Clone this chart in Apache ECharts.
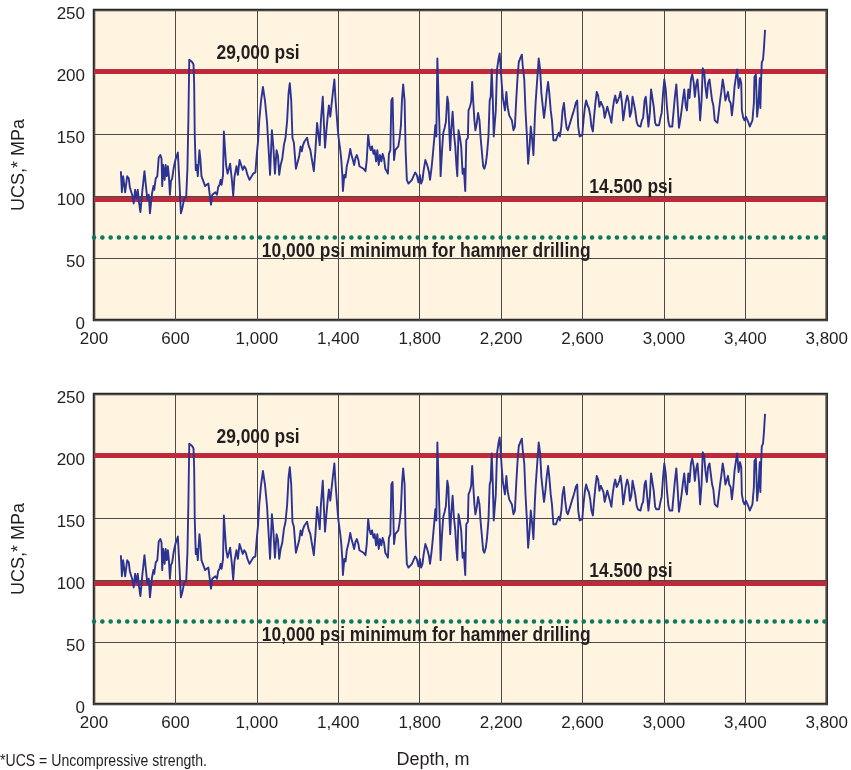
<!DOCTYPE html>
<html>
<head>
<meta charset="utf-8">
<script src="https://cdn.jsdelivr.net/npm/echarts@6/dist/echarts.min.js"></script>
<style>
html,body{margin:0;padding:0;background:#fff;}
#chart{width:851px;height:770px;}
</style>
</head>
<body>
<div id="chart"></div>
<script>
// Depth (m) along the well
const depth = [
 332,337,343,353,363,371,376,382,389,395,
 402,408,415,421,428,438,448,454,462,469,
 475,485,492,496,503,511,518,526,532,535,
 540,547,552,558,563,568,573,578,584,592,
 600,612,620,627,635,643,653,659,664,668,
 674,682,689,692,695,700,705,710,718,723,
 728,737,746,753,762,768,775,781,790,796,
 804,810,817,822,827,834,838,845,849,856,
 863,869,878,884,890,900,907,915,923,931,
 938,946,954,964,973,982,993,1000,1006,1012,
 1021,1030,1040,1050,1065,1074,1081,1089,1097,1104,
 1110,1117,1125,1133,1141,1149,1156,1162,1169,1175,
 1182,1192,1201,1208,1215,1221,1227,1234,1240,1247,
 1254,1263,1271,1280,1288,1296,1304,1309,1315,1324,
 1328,1335,1342,1348,1354,1361,1368,1374,1381,1387,
 1393,1400,1410,1415,1420,1423,1430,1436,1442,1451,
 1459,1465,1472,1478,1485,1491,1499,1504,1514,1524,
 1534,1540,1547,1553,1560,1566,1573,1579,1586,1592,
 1599,1605,1612,1618,1625,1631,1638,1644,1649,1656,
 1661,1667,1674,1680,1688,1695,1701,1708,1713,1719,
 1726,1731,1737,1745,1753,1762,1770,1778,1786,1794,
 1801,1807,1814,1819,1828,1837,1845,1851,1858,1864,
 1871,1877,1882,1887,1893,1898,1903,1910,1916,1923,
 1929,1936,1941,1946,1950,1955,1962,1968,1975,1980,
 1985,1991,1998,2004,2011,2017,2024,2029,2037,2040,
 2047,2053,2058,2063,2069,2074,2081,2087,2094,2099,
 2105,2112,2118,2125,2131,2138,2144,2149,2154,2159,
 2164,2169,2174,2180,2187,2193,2198,2203,2209,2214,
 2219,2226,2232,2240,2247,2253,2261,2268,2274,2281,
 2287,2294,2302,2307,2314,2320,2327,2333,2340,2346,
 2353,2359,2366,2370,2375,2382,2385,2392,2398,2405,
 2411,2418,2424,2431,2437,2444,2450,2457,2463,2470,
 2476,2483,2489,2496,2502,2509,2515,2522,2528,2535,
 2541,2548,2554,2561,2567,2574,2579,2586,2592,2599,
 2605,2612,2618,2625,2631,2638,2644,2651,2657,2664,
 2670,2677,2683,2690,2696,2703,2709,2716,2722,2729,
 2735,2742,2748,2755,2761,2768,2774,2781,2787,2794,
 2800,2807,2813,2820,2827,2833,2840,2846,2853,2859,
 2866,2872,2879,2885,2892,2898,2905,2911,2918,2924,
 2931,2937,2944,2950,2957,2963,2970,2976,2983,2989,
 2996,3002,3009,3015,3022,3028,3035,3041,3048,3054,
 3061,3067,3074,3080,3087,3094,3100,3107,3113,3120,
 3126,3133,3139,3146,3152,3159,3165,3172,3178,3185,
 3191,3198,3204,3211,3217,3224,3230,3237,3243,3250,
 3256,3263,3269,3276,3282,3289,3295,3302,3308,3315,
 3321,3328,3334,3341,3347,3354,3360,3367,3374,3380,
 3383,3390,3396,3403,3409,3416,3422,3429,3435,3442,
 3445,3452,3458,3465,3471,3474,3478,3481,3487,3491,
 3494,3497
];
// UCS (MPa) at each depth
const ucs = [
 120,103,116,103,116,114,107,107,100,94,
 105,98,105,95,87,105,120,110,97,101,
 86,102,108,105,114,116,131,133,130,108,
 125,113,125,116,124,116,101,112,114,123,
 129,135,110,86,91,98,99,122,164,210,
 209,208,206,191,149,121,125,116,137,129,
 116,112,108,108,110,102,93,101,100,103,
 101,107,109,113,109,117,152,153,125,118,
 122,126,112,100,115,124,117,129,130,121,
 124,122,117,113,114,118,119,134,144,161,
 177,188,177,160,117,153,140,118,137,132,
 117,125,130,141,147,161,183,191,177,147,
 143,122,121,132,140,136,141,144,143,147,
 141,137,129,120,137,159,148,141,161,180,
 164,139,153,164,173,164,175,184,194,177,
 164,149,137,129,117,104,117,115,124,130,
 138,133,129,125,131,133,129,124,123,122,
 120,129,149,141,137,140,134,137,128,137,
 125,133,128,134,130,122,120,118,134,137,
 177,179,129,137,138,140,146,157,177,190,
 177,137,113,110,109,113,116,119,117,111,
 117,110,113,120,129,125,120,113,122,132,
 145,157,148,211,210,151,116,137,151,155,
 160,180,175,151,137,153,168,151,140,126,
 116,153,147,140,118,122,104,145,147,169,
 172,176,192,177,161,153,159,167,161,148,
 149,124,122,126,134,148,177,180,202,179,
 148,148,169,202,210,215,204,191,179,179,
 169,184,172,165,164,161,153,156,176,196,
 208,211,214,204,194,169,148,126,140,156,
 145,133,163,176,188,204,211,202,183,172,
 163,172,183,192,183,169,161,145,145,145,
 148,151,148,156,169,175,164,155,153,152,
 160,164,167,171,175,177,156,148,147,149,
 161,172,177,173,171,165,156,152,164,176,
 184,181,172,176,177,171,163,168,172,171,
 164,159,169,177,181,175,177,180,184,175,
 161,169,176,181,176,164,168,180,181,169,
 160,157,156,156,161,163,177,180,167,156,
 167,186,187,172,159,157,156,157,163,167,
 183,194,186,172,160,156,155,156,169,180,
 190,175,155,161,169,179,186,173,169,186,
 179,194,198,192,180,190,194,180,161,177,
 203,200,188,179,191,194,186,177,173,161,
 160,159,167,177,184,194,188,177,180,184,
 177,175,165,175,188,196,202,187,195,191,
 169,163,161,164,165,159,156,155,161,175,
 196,198,164,176,195,171,195,208,210,218,
 226,234
];
// Reference strength limits (MPa) and their labels
const limitNames = ['29,000 psi', '14.500 psi', '10,000 psi minimum for hammer drilling'];
const limitValues = [201, 97, 67];
// Where each limit label sits, in data units [depth, UCS]
const labelDepths = [1006, 2838, 1832];
const labelUcs = [215, 106.5, 55];
// Axis ticks
const xTicks = [200, 600, 1000, 1400, 1800, 2200, 2600, 3000, 3400, 3800];
const yTicks = [0, 50, 100, 150, 200, 250];

const profile = depth.map((d, i) => [d, ucs[i]]);
const textColor = '#231f20';
const sans = '"Liberation Sans",Arial,Helvetica,sans-serif';
const fmt = v => v.toLocaleString('en-US');

const chart = echarts.init(document.getElementById('chart'), null, {renderer: 'canvas'});

const grids = [
  {left: 94, top: 10, width: 737, height: 310},
  {left: 94, top: 394, width: 737, height: 310}
];

function xAx(i) {
  return {
    gridIndex: i, type: 'value', min: xTicks[0], max: xTicks[xTicks.length - 1],
    interval: xTicks[1] - xTicks[0],
    axisLine: {show: false}, axisTick: {show: false},
    axisLabel: {show: true, margin: 11, color: textColor, fontSize: 17,
      fontFamily: sans, formatter: v => fmt(v),
      showMinLabel: true, showMaxLabel: true},
    splitLine: {show: true, lineStyle: {color: '#4a4a4a', width: 1}}
  };
}
function yAx(i) {
  return {
    gridIndex: i, type: 'value', min: yTicks[0], max: yTicks[yTicks.length - 1],
    interval: yTicks[1] - yTicks[0],
    name: 'UCS,* MPa', nameLocation: 'middle', nameGap: 66,
    nameTextStyle: {color: textColor, fontSize: 18, fontFamily: sans},
    axisLine: {show: false}, axisTick: {show: false},
    axisLabel: {margin: 9, color: textColor, fontSize: 17, fontFamily: sans,
      formatter: v => '{t|' + v + '}',
      rich: {t: {color: textColor, fontSize: 17, fontFamily: sans, padding: [9, 0, 0, 0]}}},
    splitLine: {show: true, lineStyle: {color: '#4a4a4a', width: 1}}
  };
}

function limitSeries(i) {
  return {
    type: 'line', xAxisIndex: i, yAxisIndex: i, data: [], z: 2, silent: true,
    markLine: {
      symbol: ['none', 'none'], silent: true, animation: false,
      label: {show: false},
      data: [
        {yAxis: limitValues[0], lineStyle: {color: '#bf2a3a', width: 5, type: 'solid'}},
        {yAxis: limitValues[1], lineStyle: {color: '#bf2a3a', width: 5, type: 'solid'}},
        {yAxis: limitValues[2], lineStyle: {color: '#0b7a5c', width: 4.5, type: [0.1, 8.2], cap: 'round'}}
      ]
    }
  };
}
function dataSeries(i) {
  return {
    type: 'line', xAxisIndex: i, yAxisIndex: i, data: profile, z: 5,
    showSymbol: false, symbol: 'none', animation: false,
    lineStyle: {color: '#2c3393', width: 1.9, join: 'round'}
  };
}

chart.setOption({
  animation: false,
  backgroundColor: '#ffffff',
  grid: grids.map(g => Object.assign({show: true, backgroundColor: '#fef4df', borderColor: '#2a2a2a', borderWidth: 2.5}, g)),
  xAxis: [xAx(0), xAx(1)],
  yAxis: [yAx(0), yAx(1)],
  series: [limitSeries(0), dataSeries(0), limitSeries(1), dataSeries(1)]
});

// Limit labels placed through the axes' scales (condensed bold, as in the original)
const graphics = [];
[0, 1].forEach(g => {
  limitNames.forEach((name, k) => {
    const p = chart.convertToPixel({gridIndex: g}, [labelDepths[k], labelUcs[k]]);
    graphics.push({
      type: 'text', x: p[0], y: p[1], scaleX: 0.87, z: 10, silent: true,
      style: {text: name, fill: textColor, font: 'bold 20px ' + sans, align: 'center', verticalAlign: 'middle'}
    });
  });
});
graphics.push({type: 'text', x: 433, y: 760, silent: true,
  style: {text: 'Depth, m', fill: textColor, font: '18px ' + sans, align: 'center', verticalAlign: 'middle'}});
graphics.push({type: 'text', x: 0, y: 762, scaleX: 0.88, silent: true,
  style: {text: '*UCS = Uncompressive strength.', fill: textColor, font: '16px ' + sans, align: 'left', verticalAlign: 'middle'}});
chart.setOption({graphic: graphics});
</script>
</body>
</html>
